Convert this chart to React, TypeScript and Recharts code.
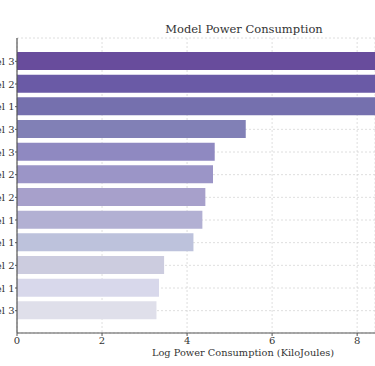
import React from "react";
import { Bar, BarChart, CartesianGrid, Cell, XAxis, YAxis } from "recharts";

// values (first three bars run past the right edge)
const models = [
  "Model 3", "Model 2", "Model 1", "Model 3", "Model 3", "Model 2",
  "Model 2", "Model 1", "Model 1", "Model 2", "Model 1", "Model 3",
];
const logPower = [9.6, 9.3, 9.0, 5.38, 4.65, 4.61, 4.43, 4.36, 4.15, 3.46, 3.34, 3.28];
const barColors = [
  "#684c9c", "#6a5aa6", "#7570ae", "#8180b6", "#8f89c1", "#9b95c7",
  "#a7a0cb", "#b2b0d3", "#bdc2dc", "#ccccdf", "#d8d8eb", "#dfdfea",
];
const xTicks = [0, 2, 4, 6, 8];

const data = models.map((m, i) => ({ id: String(i), label: m, value: logPower[i] }));

const FONT = "'DejaVu Serif', serif";
const SHIFT = 60;

export default function App() {
  return (
    <div
      style={{
        position: "absolute",
        left: 0,
        top: 0,
        width: 375,
        height: 366,
        overflow: "hidden",
        background: "#fff",
        fontFamily: FONT,
        color: "#333",
      }}
    >
      <style>{".chart text { font-family: 'DejaVu Serif', serif !important; }"}</style>
      <div
        style={{
          position: "absolute",
          left: 144,
          width: 200,
          top: 22,
          textAlign: "center",
          fontSize: 11.5,
          whiteSpace: "nowrap",
        }}
      >
        Model Power Consumption
      </div>
      <div className="chart" style={{ position: "absolute", left: -SHIFT, top: 0 }}>
        <BarChart
          width={375 + SHIFT}
          height={366}
          data={data}
          layout="vertical"
          margin={{ top: 38, right: 0, left: 17, bottom: 0 }}
        >
          <XAxis
            type="number"
            domain={[0, 8.42]}
            allowDataOverflow
            ticks={xTicks}
            height={33}
            tickSize={3}
            tickMargin={1}
            tick={{ fill: "#333", fontSize: 10 }}
            axisLine={{ stroke: "#555", strokeWidth: 1.2 }}
            tickLine={{ stroke: "#555" }}
          />
          <YAxis
            type="category"
            dataKey="id"
            width={60}
            padding={{ top: 12, bottom: 11 }}
            tickFormatter={(v) => models[Number(v)]}
            tickSize={2}
            tickMargin={0.5}
            tick={{ fill: "#333", fontSize: 10 }}
            axisLine={{ stroke: "#555", strokeWidth: 1.2 }}
            tickLine={{ stroke: "#555" }}
            interval={0}
          />
          <Bar dataKey="value" barSize={18} isAnimationActive={false}>
            {data.map((d, i) => (
              <Cell key={d.id} fill={barColors[i]} />
            ))}
          </Bar>
          <CartesianGrid stroke="#d0d0d0" strokeDasharray="2 2" strokeOpacity={0.7} />
        </BarChart>
      </div>
      <div
        style={{
          position: "absolute",
          left: 143,
          width: 200,
          top: 347,
          textAlign: "center",
          fontSize: 9.8,
          whiteSpace: "nowrap",
        }}
      >
        Log Power Consumption (KiloJoules)
      </div>
    </div>
  );
}
